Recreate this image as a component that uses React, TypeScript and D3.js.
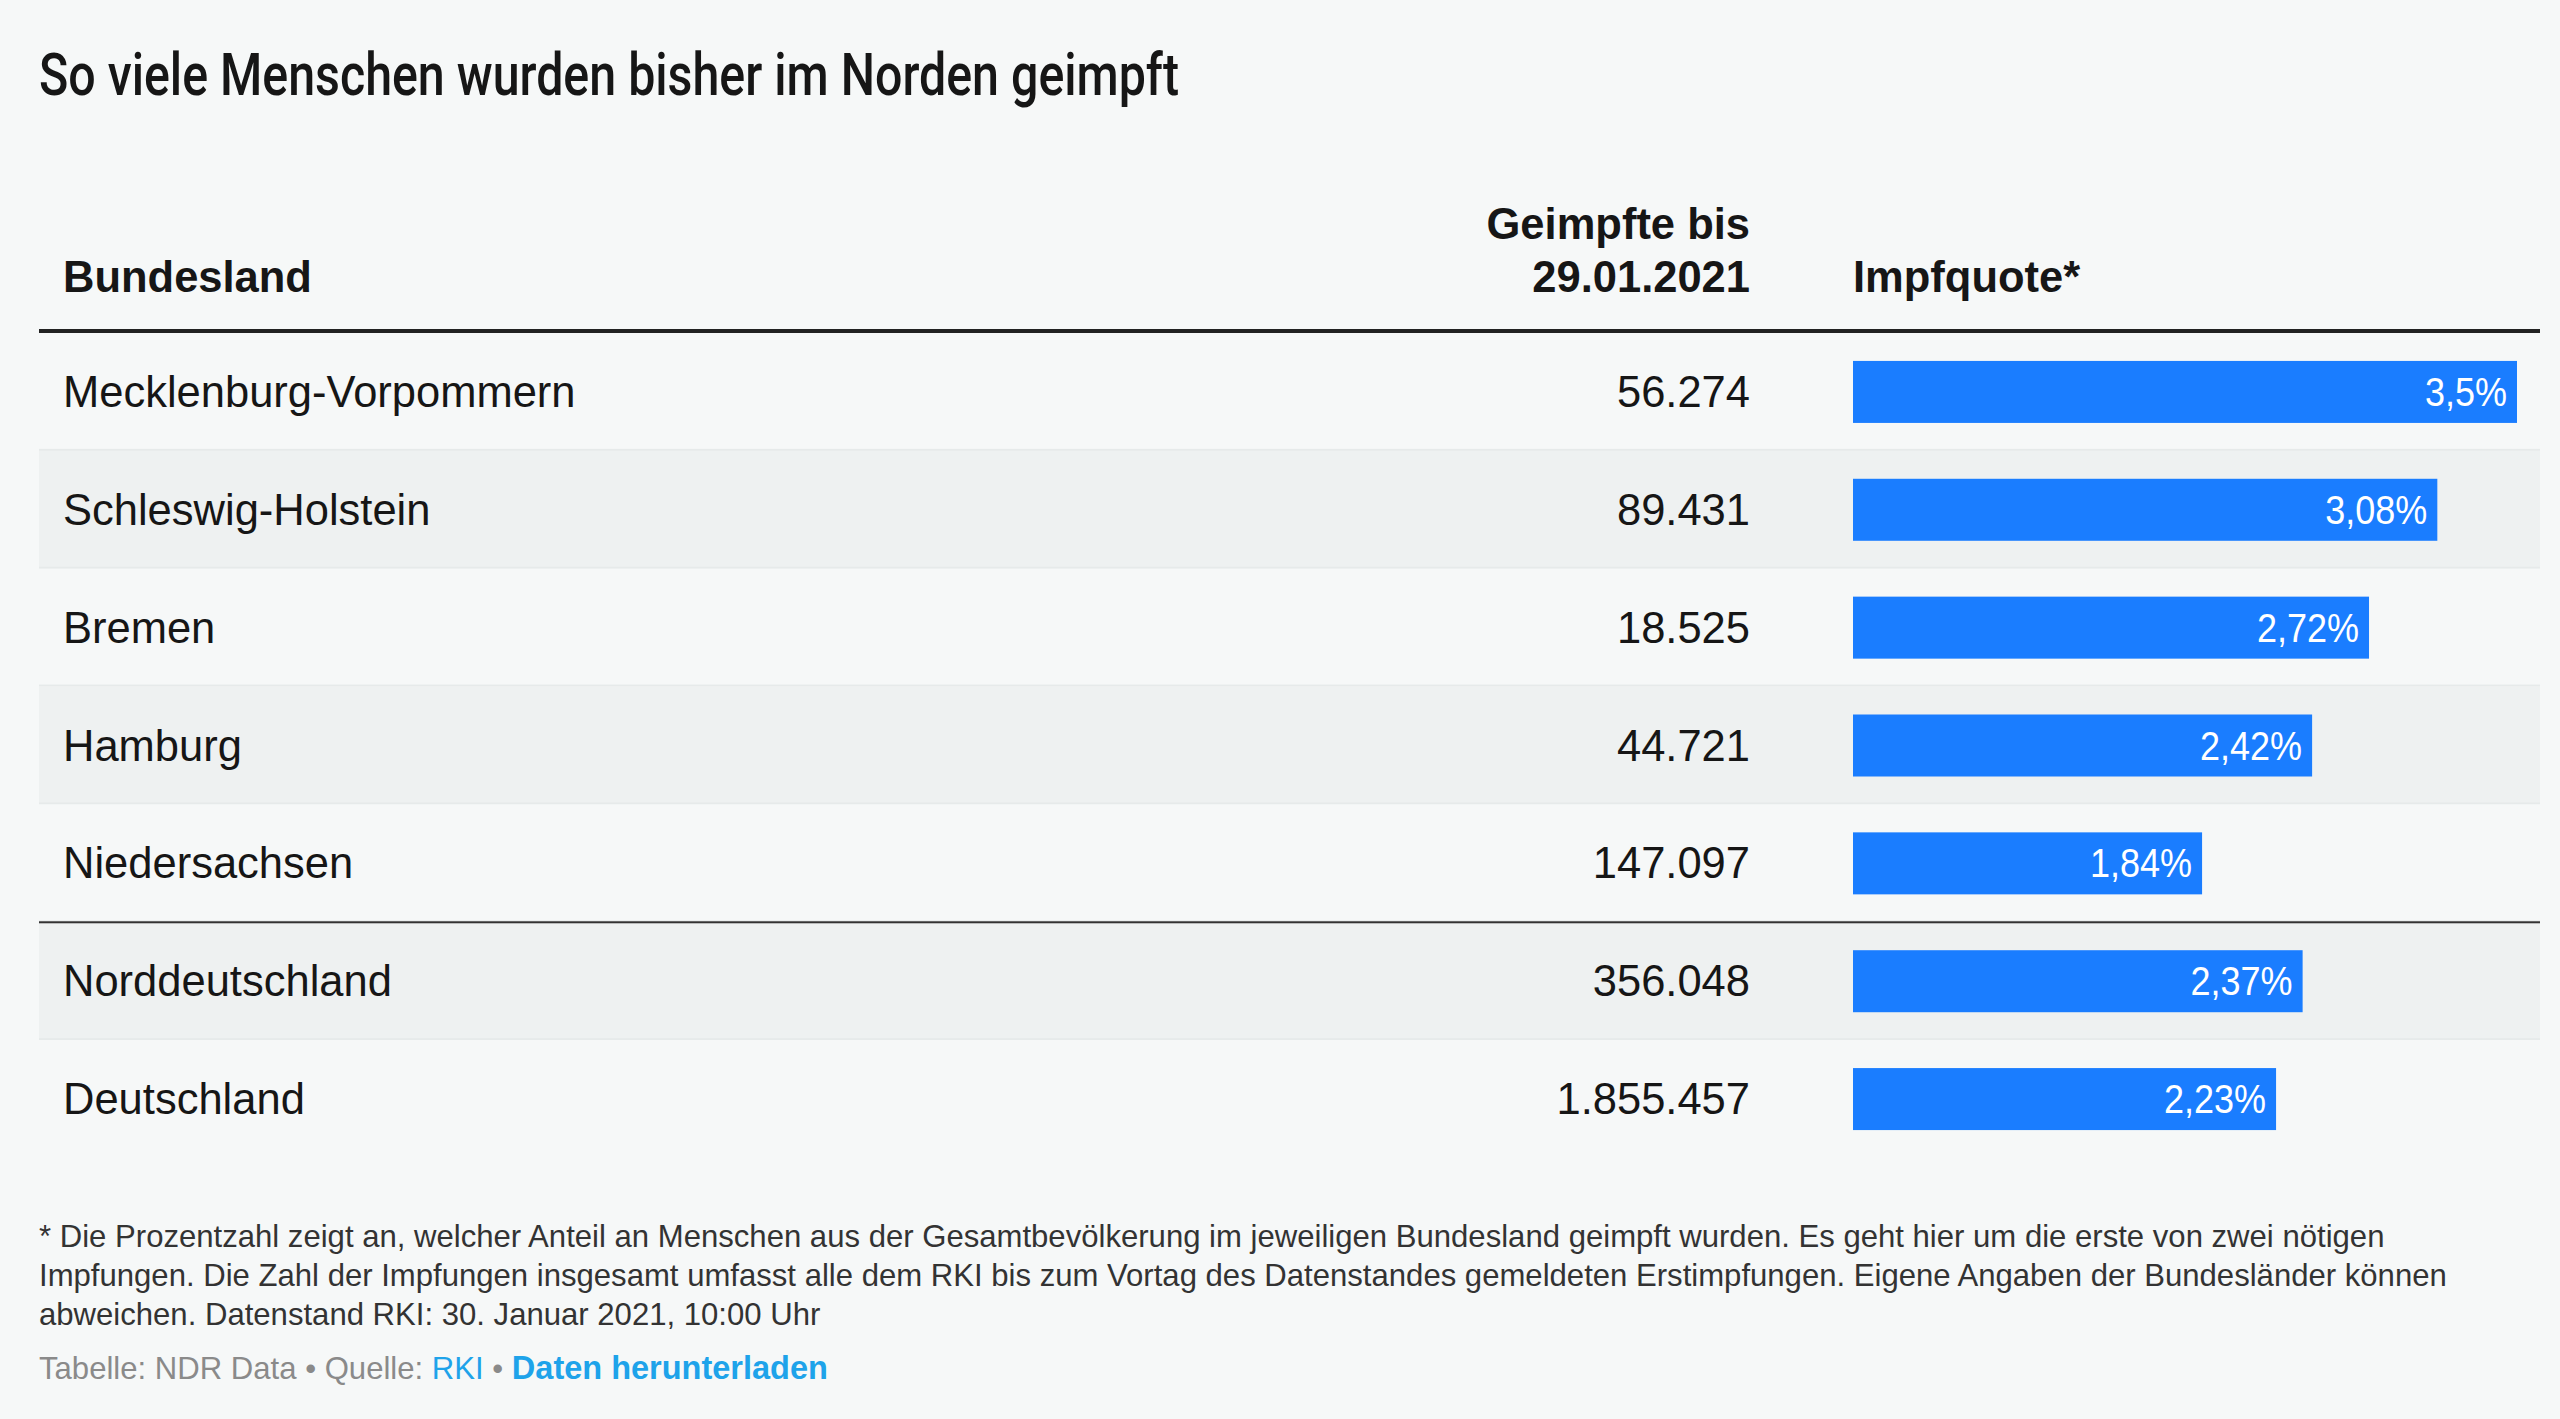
import React from 'react';
import * as d3 from 'd3';

const title = 'So viele Menschen wurden bisher im Norden geimpft';
const headerLabels = ['Bundesland', 'Geimpfte bis', '29.01.2021', 'Impfquote*'];
const states = [
  'Mecklenburg-Vorpommern',
  'Schleswig-Holstein',
  'Bremen',
  'Hamburg',
  'Niedersachsen',
  'Norddeutschland',
  'Deutschland',
];
const vaccinated = [56274, 89431, 18525, 44721, 147097, 356048, 1855457];
const rates = [3.5, 3.08, 2.72, 2.42, 1.84, 2.37, 2.23];
const footnoteLines = [
  '* Die Prozentzahl zeigt an, welcher Anteil an Menschen aus der Gesamtbevölkerung im jeweiligen Bundesland geimpft wurden. Es geht hier um die erste von zwei nötigen',
  'Impfungen. Die Zahl der Impfungen insgesamt umfasst alle dem RKI bis zum Vortag des Datenstandes gemeldeten Erstimpfungen. Eigene Angaben der Bundesländer können',
  'abweichen. Datenstand RKI: 30. Januar 2021, 10:00 Uhr',
];
const sourceParts = ['Tabelle: NDR Data • Quelle: ', 'RKI', ' • ', 'Daten herunterladen'];

const W = 2560;
const H = 1419;
const FONT = '"Liberation Sans", Arial, Helvetica, sans-serif';
const FS = 43.5;

const de = d3.formatLocale({ decimal: ',', thousands: '.', grouping: [3], currency: ['', ' €'] });
const fmtInt = de.format(',d');
const fmtRate = (v: number) => de.format('~r')(v) + '%';

export default function App() {
  const tableLeft = 39;
  const tableRight = 2540;
  const y = d3.scaleBand<string>().domain(states).range([333, 1158]).paddingInner(0);
  const x = d3.scaleLinear().domain([0, d3.max(rates) as number]).range([1853, 2517]);
  const rh = y.bandwidth();
  const barH = 62;
  const nameX = 63;
  const numRight = 1750;

  return (
    <svg
      width={W}
      height={H}
      viewBox={`0 0 ${W} ${H}`}
      style={{ position: 'absolute', left: 0, top: 0, display: 'block' }}
      fontFamily={FONT}
    >
      <rect x={0} y={0} width={W} height={H} fill="#f6f8f8" />
      <text
        x={39}
        y={95}
        fontFamily='Roboto, "Liberation Sans", sans-serif'
        fontSize={60}
        fontWeight={500}
        fill="#161616"
        textLength={1140}
        lengthAdjust="spacingAndGlyphs"
      >
        {title}
      </text>

      {/* header */}
      <text x={nameX} y={292} fontSize={FS} fontWeight={700} fill="#161616">
        {headerLabels[0]}
      </text>
      <text x={numRight} y={239} fontSize={FS} fontWeight={700} fill="#161616" textAnchor="end">
        {headerLabels[1]}
      </text>
      <text x={numRight} y={292} fontSize={FS} fontWeight={700} fill="#161616" textAnchor="end">
        {headerLabels[2]}
      </text>
      <text x={1853} y={292} fontSize={FS} fontWeight={700} fill="#161616">
        {headerLabels[3]}
      </text>

      {/* rows */}
      {states.map((s, i) => {
        const top = y(s) as number;
        const cy = top + rh / 2;
        return (
          <g key={s}>
            <rect
              x={tableLeft}
              y={top}
              width={tableRight - tableLeft}
              height={rh}
              fill={i % 2 === 1 ? '#eef1f1' : '#f6f8f8'}
            />
            {i < states.length - 1 && (
              <rect x={tableLeft} y={top + rh - 2} width={tableRight - tableLeft} height={2} fill="#e6eaea" />
            )}
            <text x={nameX} y={cy + 15} fontSize={FS} fill="#161616">
              {s}
            </text>
            <text x={numRight} y={cy + 15} fontSize={FS} fill="#161616" textAnchor="end">
              {fmtInt(vaccinated[i])}
            </text>
            <rect x={x(0)} y={cy - barH / 2} width={x(rates[i]) - x(0)} height={barH} fill="#1a7dff" />
            <text
              transform={`translate(${x(rates[i]) - 10},${cy + 14}) scale(0.9,1)`}
              x={0}
              y={0}
              fontSize={40}
              fill="#ffffff"
              textAnchor="end"
            >
              {fmtRate(rates[i])}
            </text>
          </g>
        );
      })}

      {/* lines */}
      <rect x={tableLeft} y={329} width={tableRight - tableLeft} height={4} fill="#222" />
      <rect
        x={tableLeft}
        y={(y(states[5]) as number) - 1}
        width={tableRight - tableLeft}
        height={2}
        fill="#333"
      />

      {/* footnote */}
      {footnoteLines.map((l, i) => (
        <text key={i} x={39} y={1247 + i * 39} fontSize={31.1} fill="#333">
          {l}
        </text>
      ))}
      <text x={39} y={1379} fontSize={31.1} fill="#8a8a8a">
        <tspan>{sourceParts[0]}</tspan>
        <tspan fill="#1ea3ea">{sourceParts[1]}</tspan>
        <tspan>{sourceParts[2]}</tspan>
        <tspan fill="#1ea3ea" fontWeight={700} fontSize={32.5}>
          {sourceParts[3]}
        </tspan>
      </text>
    </svg>
  );
}
